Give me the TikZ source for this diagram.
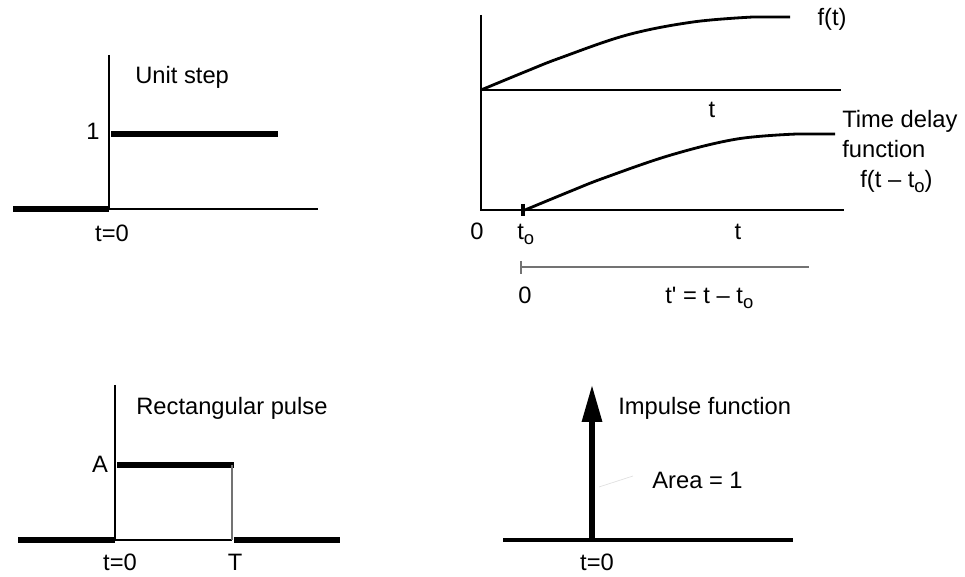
\documentclass[tikz,border=0pt]{standalone}
\usepackage{fontspec}
\setmainfont{Liberation Sans}
\usetikzlibrary{arrows.meta}
\newcommand{\subo}{\raisebox{-0.32ex}{\fontsize{10.5}{12}\selectfont o}}

\begin{document}
\begin{tikzpicture}[x=0.02cm,y=-0.02cm,font=\fontsize{13.5}{16}\selectfont]
	\tikzset{
		axis/.style={line width=1.6pt},
		level/.style={line width=2.9pt},
		thinline/.style={line width=0.7pt, black!55},
		lbl/.style={anchor=base, inner sep=0pt},
		lblw/.style={anchor=base west, inner sep=0pt}
	}
	\useasboundingbox (0,0) rectangle (965,577);
	
	% unit step
	\draw [axis] (109,55) -- (109,209) -- (318,209);
	\draw [level] (13,209) -- (109,209);
	\draw [level] (111,134) -- (278,134);
	\node [name=steplbl, lblw] at (135,84) {Unit step};
	\node [name=one, lbl] at (93,140) {1};
	\node [name=zeroa, lbl] at (112,242) {t=0};
	
	% time delay
	\draw [axis] (481,15) -- (481,210) -- (844,210);
	\draw [axis] (481,90) -- (841,90);
	\draw [axis] plot [smooth, tension=0.6] coordinates {(481,90) (527,71) (560,58) (627,35) (693,22) (753,17)} -- (790,17);
	\draw [axis] plot [smooth, tension=0.6] coordinates {(525,210) (571,191) (604,178) (671,155) (737,139) (797,134)} -- (835,134);
	\draw [line width=2.6pt] (523,204) -- (523,216);
	\draw [thinline] (521,261) -- (521,274);
	\draw [thinline] (521,267) -- (809,267);
	
	\node [name=ft, lbl] at (832,26) {f(t)};
	\node [name=tmid, lbl] at (712,118) {t};
	\node [name=delaylbl, lblw] at (842,128) {Time delay};
	\node [name=funclbl, lblw] at (842,158) {function};
	\node [name=fdelay, lblw] at (860,188) {f(t -- t\subo)};
	\node [name=origin, lbl] at (477,240) {0};
	\node [name=tzero, lblw] at (517,240) {t\subo};
	\node [name=taxis, lbl] at (738,240) {t};
	\node [name=shiftzero, lbl] at (525,304) {0};
	\node [name=shiftlbl, lblw] at (665,304) {t\textquotesingle{} = t -- t\subo};
	
	% rectangular pulse
	\draw [axis] (115,385) -- (115,540) -- (232,540);
	\draw [level] (18,540) -- (115,540);
	\draw [level] (234,540) -- (340,540);
	\draw [level] (117,465) -- (234,465);
	\draw [thinline] (232,465) -- (232,540);
	\node [name=pulselbl, lblw] at (136,415) {Rectangular pulse};
	\node [name=amp, lbl] at (100,473) {A};
	\node [name=zerob, lbl] at (120,571) {t=0};
	\node [name=endT, lbl] at (235,571) {T};
	
	% impulse
	\draw [line width=1.8pt] (503,540) -- (793,540);
	\draw [line width=2.9pt, -{Triangle[length=21pt,width=11pt]}] (592,540) -- (592,385);
	\draw [black!12, line width=0.4pt] (599,487) -- (633,476);
	\node [name=implbl, lblw] at (618,415) {Impulse function};
	\node [name=area, lblw] at (652,489) {Area = 1};
	\node [name=zeroc, lbl] at (597,571) {t=0};

\end{tikzpicture}
\end{document}
